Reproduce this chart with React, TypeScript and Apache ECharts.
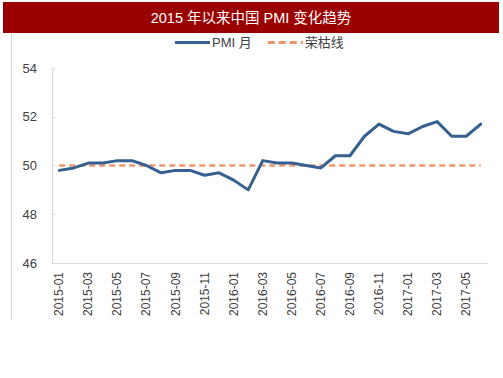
import React, { useEffect, useRef } from "react";
import * as echarts from "echarts";

const months: string[] = [
  "2015-01", "2015-02", "2015-03", "2015-04", "2015-05", "2015-06",
  "2015-07", "2015-08", "2015-09", "2015-10", "2015-11", "2015-12",
  "2016-01", "2016-02", "2016-03", "2016-04", "2016-05", "2016-06",
  "2016-07", "2016-08", "2016-09", "2016-10", "2016-11", "2016-12",
  "2017-01", "2017-02", "2017-03", "2017-04", "2017-05", "2017-06",
];
const pmi: number[] = [
  49.8, 49.9, 50.1, 50.1, 50.2, 50.2, 50.0, 49.7, 49.8, 49.8, 49.6, 49.7,
  49.4, 49.0, 50.2, 50.1, 50.1, 50.0, 49.9, 50.4, 50.4, 51.2, 51.7, 51.4,
  51.3, 51.6, 51.8, 51.2, 51.2, 51.7,
];
const boomBust: number[] = months.map(() => 50);
const titleText = "2015 年以来中国 PMI 变化趋势";
const seriesNames = ["PMI 月", "荣枯线"];

const FONT = "'Liberation Sans', Arial, 'Noto Sans CJK SC', sans-serif";

const solidIcon = "path://M0,0h35v3h-35z";
const dashedIcon = "path://M0,0h7v3h-7zM11,0h7v3h-7zM22,0h7v3h-7zM33,0h2v3h-2z";

export default function App() {
  const ref = useRef<HTMLDivElement>(null);
  useEffect(() => {
    if (!ref.current) return;
    const chart = echarts.init(ref.current, undefined, { renderer: "svg" });
    chart.setOption({
      animation: false,
      backgroundColor: "#ffffff",
      textStyle: { fontFamily: FONT },
      graphic: [
        { type: "rect", shape: { x: 3, y: 2, width: 496, height: 31 }, style: { fill: "#9B0000" } },
        {
          type: "text",
          x: 251,
          y: 18,
          style: {
            text: titleText,
            fill: "#ffffff",
            font: `14.5px ${FONT}`,
            textAlign: "center",
            textVerticalAlign: "middle",
          },
        },
        { type: "line", shape: { x1: 11.5, y1: 33, x2: 11.5, y2: 320 }, style: { stroke: "#d9d9d9", lineWidth: 1 } },
      ],
      legend: {
        top: 36,
        left: 175,
        padding: 0,
        itemWidth: 35,
        itemHeight: 3,
        itemGap: 16,
        textStyle: { fontSize: 13, color: "#404040", fontFamily: FONT, padding: [0, 0, 0, -3] },
        data: [
          { name: seriesNames[0], icon: solidIcon },
          { name: seriesNames[1], icon: dashedIcon },
        ],
      },
      grid: { left: 52, right: 15, top: 68, bottom: 115, containLabel: false },
      xAxis: {
        type: "category",
        data: months,
        boundaryGap: true,
        axisLine: { lineStyle: { color: "#d9d9d9" } },
        axisTick: { inside: true, length: 3, interval: 1, lineStyle: { color: "#d9d9d9" } },
        axisLabel: { rotate: 90, interval: 1, fontSize: 12, color: "#404040", margin: 9, fontFamily: FONT },
        splitLine: { show: false },
      },
      yAxis: {
        type: "value",
        min: 46,
        max: 54,
        interval: 2,
        axisLine: { show: true, lineStyle: { color: "#d9d9d9" } },
        axisTick: { show: true, inside: true, length: 3, lineStyle: { color: "#d9d9d9" } },
        axisLabel: { fontSize: 13, color: "#404040", margin: 15, fontFamily: FONT },
        splitLine: { show: false },
      },
      series: [
        {
          name: seriesNames[0],
          type: "line",
          data: pmi,
          symbol: "none",
          lineStyle: { color: "#35608F", width: 3, cap: "round", join: "round" },
          itemStyle: { color: "#35608F" },
          z: 3,
        },
        {
          name: seriesNames[1],
          type: "line",
          data: boomBust,
          symbol: "none",
          lineStyle: { color: "#F0956A", width: 2.5, type: [6, 4] },
          itemStyle: { color: "#F0956A" },
          z: 2,
        },
      ],
    });
    return () => chart.dispose();
  }, []);
  return <div ref={ref} style={{ position: "fixed", left: 0, top: 0, width: 503, height: 378 }} />;
}
